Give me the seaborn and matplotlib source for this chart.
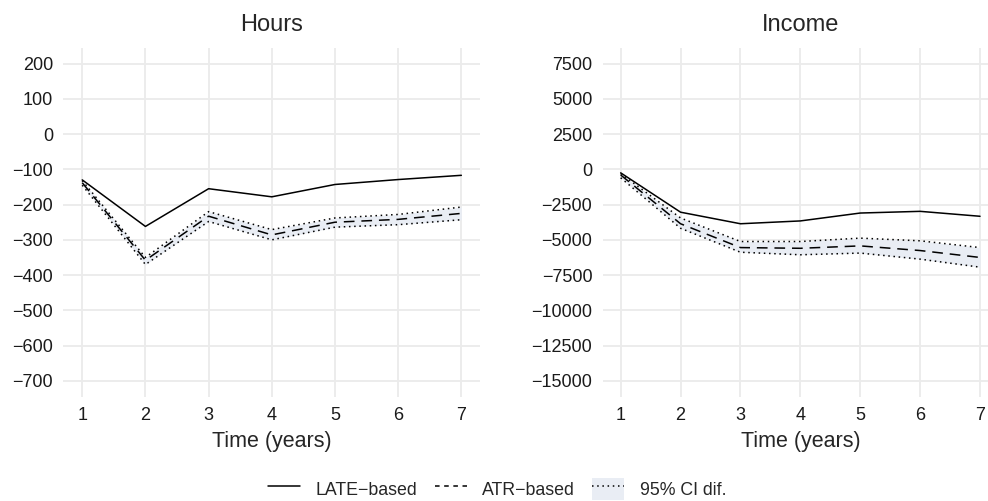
import numpy as np
import pandas as pd
import matplotlib
matplotlib.use("Agg")
import matplotlib.pyplot as plt
from matplotlib.lines import Line2D
from matplotlib.patches import Patch
import seaborn as sns

time = [1, 2, 3, 4, 5, 6, 7]

hours_late = [-130, -262, -155, -178, -143, -129, -117]
hours_atr = [-138, -358, -233, -286, -250, -242, -225]
hours_ci_low = [-145, -370, -248, -300, -264, -257, -243]
hours_ci_high = [-132, -350, -220, -271, -238, -228, -207]

income_late = [-250, -3040, -3860, -3660, -3100, -2980, -3330]
income_atr = [-400, -3860, -5550, -5600, -5430, -5760, -6250]
income_ci_low = [-600, -4180, -5880, -6060, -5940, -6370, -6940]
income_ci_high = [-300, -3450, -5120, -5120, -4880, -5070, -5550]

hours_ticks = [200, 100, 0, -100, -200, -300, -400, -500, -600, -700]
income_ticks = [7500, 5000, 2500, 0, -2500, -5000, -7500, -10000, -12500, -15000]

titles = ["Hours", "Income"]
legend_labels = ["LATE\u2212based", "ATR\u2212based", "95% CI dif."]

sns.set_style("whitegrid", {"grid.color": "#EBEBEB", "axes.edgecolor": "white"})
plt.rcParams["font.family"] = ["Liberation Sans", "DejaVu Sans"]
plt.rcParams["axes.unicode_minus"] = True

W, H = 988, 501
fig = plt.figure(figsize=(W / 100, H / 100), dpi=100)

def fig_rect(x0, x1, y0, y1):
    return [x0 / W, 1 - y1 / H, (x1 - x0) / W, (y1 - y0) / H]

ax1 = fig.add_axes(fig_rect(63.3, 480.3, 47.7, 396.7))
ax2 = fig.add_axes(fig_rect(602.7, 998.0, 47.7, 396.7))

fill_col = "#E9EDF4"
dot_ls = (0, (1, 2.4))
dash_ls = (7, 4.5)
panels = [
    (ax1, hours_late, hours_atr, hours_ci_low, hours_ci_high, hours_ticks, (-745, 245)),
    (ax2, income_late, income_atr, income_ci_low, income_ci_high, income_ticks, (-16125, 8625)),
]

for (ax, late, atr, lo, hi, ticks, ylim), title in zip(panels, titles):
    df = pd.DataFrame({
        "time": time * 2,
        "value": late + atr,
        "series": [legend_labels[0]] * 7 + [legend_labels[1]] * 7,
    })
    ax.fill_between(time, lo, hi, color=fill_col, lw=0, zorder=1)
    sns.lineplot(data=df, x="time", y="value", style="series",
                 dashes={legend_labels[0]: "", legend_labels[1]: dash_ls},
                 color="black", lw=1.1, ax=ax, legend=False, zorder=3)
    ax.plot(time, lo, color="black", lw=1.1, ls=dot_ls, zorder=2)
    ax.plot(time, hi, color="black", lw=1.1, ls=dot_ls, zorder=2)
    ax.set_xlim(0.7, 7.3)
    ax.set_ylim(*ylim)
    ax.set_xticks(time)
    ax.set_yticks(ticks)
    ax.set_yticklabels([f"{t}".replace("-", "\u2212") for t in ticks])
    ax.grid(True, color="#EBEBEB", lw=1.3)
    ax.set_axisbelow(True)
    for s in ax.spines.values():
        s.set_visible(False)
    ax.tick_params(axis="both", length=0, labelsize=13, labelcolor="#1A1A1A")
    ax.tick_params(axis="y", pad=7.5)
    ax.tick_params(axis="x", pad=7.3)
    ax.set_xlabel("Time (years)", fontsize=15.5, labelpad=5.5)
    ax.set_ylabel("")
    ax.set_title(title, fontsize=17, pad=12)

handles = [
    Line2D([], [], color="black", lw=1.1),
    Line2D([], [], color="black", lw=1.1, ls=(0, (3, 3))),
    (Patch(facecolor=fill_col, edgecolor="none"),
     Line2D([], [], color="black", lw=1.1, ls=dot_ls)),
]
fig.legend(handles, legend_labels, loc="center", bbox_to_anchor=(497 / W, 1 - 489 / H),
           ncol=3, frameon=False, fontsize=12.8, handlelength=1.8, handleheight=1.6,
           columnspacing=1.0, handletextpad=0.85)

fig.savefig("out.png", dpi=100)
